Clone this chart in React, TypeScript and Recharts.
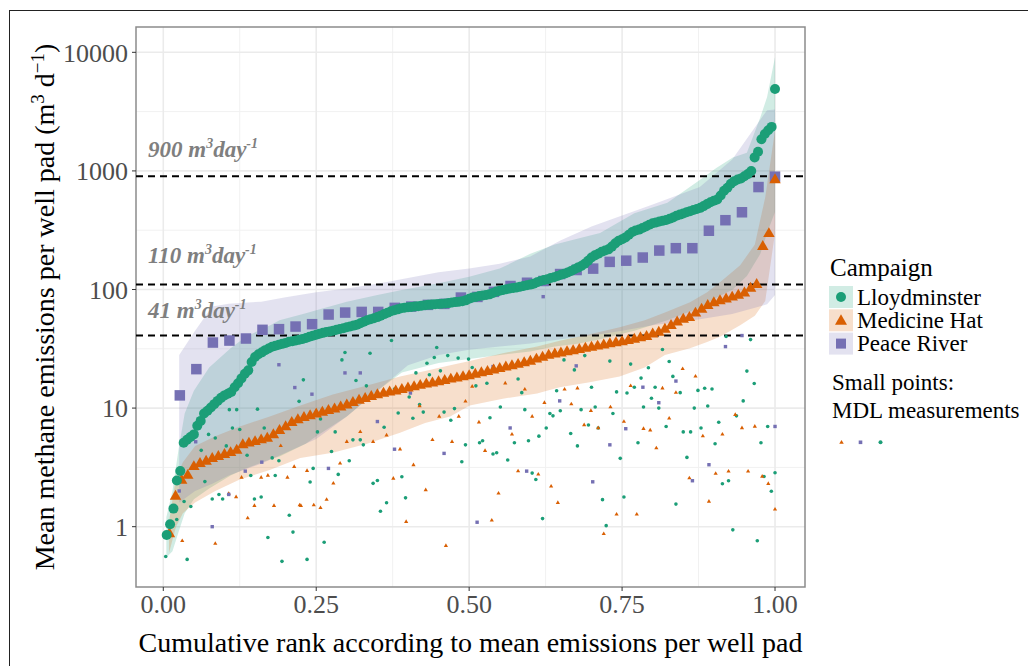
import React from 'react';
import {
  ComposedChart, XAxis, YAxis, CartesianGrid, Area, Scatter,
  ReferenceLine, ReferenceArea,
} from 'recharts';

const COL_L = '#1b9e77';
const COL_M = '#d95f02';
const COL_P = '#7570b3';
const FONT = '"Liberation Serif", "Times New Roman", serif';

const campaigns = ['Lloydminster', 'Medicine Hat', 'Peace River'];
const xTicks = [0, 0.25, 0.5, 0.75, 1];
const xMinor = [0.125, 0.375, 0.625, 0.875];
const yTicks = [1, 10, 100, 1000, 10000];
const yMinor = [3.162, 31.62, 316.2, 3162];
const thresholds = [900, 110, 41];

// Mean emissions per well pad, sorted (cumulative rank = i / n)
const lloydValues = [
  0.85, 1.05, 1.42, 2.45, 2.95, 5.1, 5.4, 5.7, 6.0, 7.1,
  7.8, 9.0, 9.5, 10.1, 10.8, 11.5, 12.2, 12.8, 13.2, 13.7,
  15.0, 16.2, 17.8, 19.5, 20.8, 24.5, 27.0, 28.4, 29.5, 30.8,
  31.8, 32.9, 33.6, 34.2, 34.8, 35.4, 36.2, 36.6, 37.1, 37.7,
  38.3, 39.0, 40.0, 40.8, 41.5, 42.3, 43.1, 43.8, 44.3, 45.0,
  45.8, 46.5, 47.2, 48.0, 48.8, 49.6, 50.5, 52.0, 53.5, 55.0,
  56.2, 57.3, 58.5, 60.2, 62.0, 63.8, 65.5, 66.8, 68.0, 69.5,
  70.2, 70.8, 71.3, 71.8, 72.4, 73.0, 73.6, 74.2, 74.6, 75.0,
  75.4, 75.8, 76.2, 76.8, 77.6, 78.3, 79.0, 79.6, 81.0, 83.5,
  85.5, 86.5, 88.0, 89.0, 90.0, 91.0, 93.5, 96.0, 97.5, 99.0,
  100.5, 102, 103, 104, 105.5, 107, 108.5, 110, 112, 115,
  118, 120, 122, 125, 127, 130, 133, 136, 139, 143,
  148, 153, 158, 165, 175, 186, 194, 200, 208, 213,
  218, 230, 245, 258, 265, 275, 290, 305, 315, 320,
  330, 340, 352, 362, 368, 374, 380, 386, 395, 405,
  418, 428, 438, 448, 458, 468, 478, 488, 505, 525,
  545, 560, 575, 620, 680, 720, 780, 820, 845, 865,
  900, 940, 1000, 1300, 1450, 1850, 2050, 2200, 2350, 4900,
];

const medValues = [
  0.87, 1.8, 2.45, 2.7, 3.2, 3.4, 3.55, 3.75, 3.9, 4.05,
  4.2, 4.4, 4.9, 5.05, 5.2, 5.38, 5.55, 5.95, 6.45, 6.95,
  7.55, 7.95, 8.3, 8.6, 8.9, 9.2, 9.5, 9.8, 10.2, 10.6,
  11.1, 11.6, 12.0, 12.5, 12.9, 13.3, 13.6, 13.9, 14.3, 14.7,
  15.1, 15.5, 15.9, 16.2, 16.6, 17.0, 17.5, 17.9, 18.3, 18.7,
  19.2, 19.8, 20.3, 20.9, 21.5, 22.1, 22.7, 23.3, 24.0, 24.8,
  25.8, 26.8, 27.8, 28.5, 29.1, 29.8, 30.4, 31.1, 31.8, 32.5,
  33.2, 34.0, 34.8, 35.5, 36.2, 37.0, 38.0, 39.0, 40.0, 42.0,
  43.5, 46, 49.5, 53, 56, 58, 63, 68, 73, 77,
  80, 83, 86, 89, 93, 102, 110, 230, 295, 840,
];

const peaceValues = [
  12.8, 21.3, 35.7, 37.1, 38.6, 45.7, 46.3, 48.7, 51, 61.5,
  63.9, 64.7, 64.7, 70, 71.8, 74.2, 75.6, 85.5, 86.6, 95.5,
  107, 114, 118, 135, 146, 150, 171, 175, 186, 213,
  223, 223, 313, 384, 448, 731, 894,
];

// Ribbons: [rank, lower, upper]
const lloydRibbon = [
  [0.005, 0.55, 1.2], [0.015, 0.62, 2.0], [0.025, 0.9, 4.5], [0.035, 1.3, 9],
  [0.05, 1.7, 14], [0.075, 2.1, 22], [0.11, 2.7, 32], [0.135, 3.1, 40],
  [0.175, 3.7, 50], [0.19, 3.9, 55], [0.233, 5.0, 63], [0.25, 5.8, 67],
  [0.3, 8.5, 79], [0.35, 14, 90], [0.39, 20, 99], [0.45, 24, 113],
  [0.5, 26, 128], [0.55, 28, 150], [0.6, 30, 200], [0.64, 33, 240],
  [0.68, 35, 270], [0.714, 38, 300], [0.77, 45, 440], [0.824, 55, 540],
  [0.877, 70, 840], [0.904, 85, 1060], [0.931, 100, 1300], [0.954, 130, 1420],
  [0.976, 200, 2830], [0.987, 300, 4200], [1.0, 450, 9150],
];

const medRibbon = [
  [0.0093, 0.6, 1.1], [0.0208, 1.0, 2.6], [0.032, 1.3, 3.5], [0.052, 1.6, 4.8],
  [0.085, 2.0, 5.8], [0.125, 2.5, 7.0], [0.174, 3.0, 8.5], [0.224, 3.8, 10.5],
  [0.277, 4.2, 13], [0.333, 5.0, 15.5], [0.387, 6.2, 18.5], [0.428, 7.5, 20.5],
  [0.469, 8.5, 23], [0.501, 10.5, 25], [0.555, 12.0, 29], [0.611, 13.3, 33],
  [0.648, 15.0, 37], [0.697, 16.5, 42], [0.746, 18.5, 48], [0.787, 22.0, 55],
  [0.82, 28.0, 64], [0.861, 32.0, 78], [0.889, 36.0, 95], [0.91, 40.0, 115],
  [0.943, 50, 160], [0.967, 60, 240], [0.984, 80, 600], [1.0, 300, 2200],
];

const peaceRibbon = [
  [0.026, 1.6, 28], [0.052, 2.0, 45], [0.08, 2.3, 72], [0.107, 2.7, 76],
  [0.16, 3.4, 79], [0.2, 4.2, 86], [0.25, 5.5, 95], [0.3, 8.5, 102],
  [0.35, 14, 112], [0.4, 23, 125], [0.45, 28, 140], [0.5, 31, 150],
  [0.55, 33, 165], [0.6, 35, 190], [0.65, 38, 260], [0.7, 41, 340],
  [0.75, 45, 420], [0.8, 50, 520], [0.877, 56, 730], [0.93, 62, 1250],
  [0.987, 75, 3250], [1.0, 90, 3300],
];

// MDL measurements: [rank, value]
const lloydMdl = [
  [0.154, 9.8], [0.108, 9.7], [0.12, 9.7], [0.113, 6.8], [0.125, 6.6], [0.074, 6.0], [0.085, 5.6],
  [0.103, 4.8], [0.062, 4.4], [0.137, 4.0], [0.165, 6.8], [0.189, 3.6], [0.178, 3.8], [0.143, 2.7],
  [0.183, 2.7], [0.068, 2.4], [0.034, 1.63], [0.045, 1.48], [0.08, 1.71], [0.091, 1.87], [0.097, 1.71],
  [0.149, 1.71], [0.16, 1.78], [0.206, 1.25], [0.212, 0.9], [0.171, 0.81], [0.194, 0.51], [0.004, 0.56],
  [0.039, 0.53], [0.022, 1.15], [0.222, 11.4], [0.229, 17.3],
  [0.373, 37.1], [0.297, 29.4], [0.292, 25.5], [0.338, 29.0], [0.315, 17.1], [0.332, 15.4], [0.447, 32.4],
  [0.465, 27.7], [0.443, 26.7], [0.431, 23.9], [0.482, 26.4], [0.499, 25.9], [0.413, 19.8], [0.435, 19.1],
  [0.453, 20.6], [0.378, 14.5], [0.402, 12.4], [0.419, 10.7], [0.425, 9.25], [0.384, 9.1], [0.408, 8.2],
  [0.361, 6.9], [0.459, 9.25], [0.47, 7.9], [0.476, 9.9], [0.252, 6.3], [0.257, 8.1], [0.281, 6.3],
  [0.31, 5.4], [0.322, 5.4], [0.327, 4.9], [0.275, 4.3], [0.304, 3.6], [0.245, 3.1], [0.286, 2.76],
  [0.24, 2.38], [0.343, 2.32], [0.35, 2.45], [0.39, 2.64], [0.365, 1.59], [0.355, 1.35], [0.396, 1.75],
  [0.263, 0.74], [0.235, 0.53], [0.494, 4.9], [0.488, 3.53],
  [0.505, 22.0], [0.511, 15.4], [0.529, 16.2], [0.568, 22.0], [0.58, 17.6], [0.586, 13.5], [0.551, 10.2],
  [0.591, 9.7], [0.534, 8.3], [0.517, 5.1], [0.522, 5.3], [0.539, 4.1], [0.545, 4.2], [0.563, 3.65],
  [0.574, 5.1], [0.597, 5.3], [0.614, 5.8], [0.626, 6.8], [0.632, 9.0], [0.637, 8.6], [0.649, 9.5],
  [0.643, 14.0], [0.655, 25.5], [0.66, 29.0], [0.672, 21.0], [0.689, 27.7], [0.683, 9.7], [0.706, 10.2],
  [0.7, 15.0], [0.695, 7.2], [0.711, 6.8], [0.666, 6.1], [0.677, 4.8], [0.73, 24.9], [0.741, 13.7],
  [0.758, 13.4], [0.764, 23.5], [0.77, 15.0], [0.781, 17.9], [0.785, 10.2], [0.776, 5.1], [0.735, 9.0],
  [0.747, 3.77], [0.603, 2.83], [0.609, 2.5], [0.62, 1.17], [0.718, 1.69], [0.724, 1.02], [0.753, 1.78],
  [0.92, 40.1], [0.96, 37.8], [0.816, 31.2], [0.827, 24.7], [0.793, 21.9], [0.833, 18.5], [0.804, 15.0],
  [0.845, 13.5], [0.874, 14.1], [0.885, 14.7], [0.897, 14.5], [0.798, 12.1], [0.81, 10.0], [0.868, 10.0],
  [0.89, 10.4], [0.948, 11.5], [0.954, 20.5], [0.966, 16.1], [0.822, 7.0], [0.85, 6.3], [0.862, 6.3],
  [0.879, 6.8], [0.908, 7.6], [0.937, 8.6], [0.988, 7.0], [0.902, 5.0], [0.977, 5.1], [0.856, 3.84],
  [0.982, 2.65], [1.0, 2.85], [0.994, 1.99], [0.924, 2.44], [0.914, 2.3], [0.838, 1.55], [0.931, 0.94],
  [0.971, 0.76],
];

const peaceMdl = [
  [0.189, 23.2], [0.215, 14.9], [0.053, 5.2], [0.026, 2.0], [0.107, 1.87], [0.134, 2.94], [0.161, 3.5],
  [0.08, 1.0], [0.297, 19.8], [0.322, 19.8], [0.243, 13.1], [0.404, 13.4], [0.35, 7.7], [0.378, 4.5],
  [0.459, 4.15], [0.27, 3.1], [0.539, 22.4], [0.675, 22.7], [0.648, 11.5], [0.567, 6.8], [0.756, 6.7],
  [0.73, 4.9], [0.594, 2.94], [0.702, 2.39], [0.513, 1.09], [0.784, 15.0], [0.946, 40.9], [0.919, 33.0],
  [0.838, 16.9], [0.81, 11.1], [1.0, 7.0], [0.892, 3.33], [0.865, 2.44], [0.621, 87],
];

const medMdl = [
  [0.192, 4.8], [0.214, 3.2], [0.203, 2.6], [0.171, 2.7], [0.16, 2.6], [0.128, 2.6], [0.119, 1.78],
  [0.107, 1.9], [0.149, 1.5], [0.181, 1.5], [0.225, 1.5], [0.138, 1.18], [0.031, 0.76], [0.085, 0.72],
  [0.419, 10.4], [0.322, 6.3], [0.3, 5.2], [0.343, 5.2], [0.365, 5.9], [0.387, 4.5], [0.44, 5.4],
  [0.472, 5.2], [0.451, 8.5], [0.483, 8.5], [0.494, 11.4], [0.505, 15.2], [0.235, 2.96], [0.289, 3.42],
  [0.278, 2.32], [0.409, 3.31], [0.376, 2.55], [0.429, 2.04], [0.223, 1.52], [0.246, 1.52], [0.257, 1.44],
  [0.267, 1.69], [0.397, 1.1], [0.462, 0.69],
  [0.559, 16.2], [0.591, 14.4], [0.623, 11.1], [0.656, 14.4], [0.667, 10.8], [0.677, 14.7], [0.699, 9.5],
  [0.731, 10.2], [0.764, 15.4], [0.753, 7.7], [0.785, 6.7], [0.516, 7.6], [0.603, 8.5], [0.57, 6.0],
  [0.526, 4.37], [0.688, 7.2], [0.711, 6.8], [0.58, 2.94], [0.613, 2.76], [0.634, 2.19], [0.548, 1.91],
  [0.645, 1.59], [0.537, 1.13], [0.741, 1.27], [0.774, 1.27], [0.72, 0.87],
  [0.849, 21.4], [0.87, 18.5], [0.816, 14.7], [0.838, 13.5], [0.827, 8.2], [0.796, 6.5], [0.806, 4.6],
  [0.882, 5.8], [0.914, 6.0], [0.935, 8.8], [0.946, 6.8], [0.967, 7.0], [0.86, 2.57], [0.903, 2.8],
  [0.924, 2.93], [0.956, 2.93], [0.979, 2.65], [0.989, 2.3], [1.0, 1.4], [0.892, 1.63],
];

const toPts = (vals: number[]) => vals.map((y, i) => ({ x: (i + 1) / vals.length, y }));
const toRib = (rows: number[][]) => rows.map(([x, lo, hi]) => ({ x, lo, hi }));
const toXY = (rows: number[][]) => rows.map(([x, y]) => ({ x, y }));

const lloydPts = toPts(lloydValues);
const medPts = toPts(medValues);
const peacePts = toPts(peaceValues);

const X_DOMAIN: [number, number] = [-0.0446, 1.049];
const Y_DOMAIN: [number, number] = [0.31, 16350];

const circleShape = (r: number, fill: string) => (p: any) =>
  <circle cx={p.cx} cy={p.cy} r={r} fill={fill} />;
const squareShape = (s: number, fill: string) => (p: any) =>
  <rect x={p.cx - s / 2} y={p.cy - s / 2} width={s} height={s} fill={fill} />;
const triShape = (w: number, fill: string) => (p: any) => {
  const h = w * 0.866;
  return (
    <polygon
      points={`${p.cx},${p.cy - (2 * h) / 3} ${p.cx - w / 2},${p.cy + h / 3} ${p.cx + w / 2},${p.cy + h / 3}`}
      fill={fill}
    />
  );
};

const labelLift: Record<number, number> = { 900: 19, 110: 22, 41: 17 };

const ThresholdLabel = (value: number) => (props: any) => {
  const vb = props.viewBox || {};
  return (
    <text
      x={vb.x + 12}
      y={vb.y - labelLift[value]}
      fontFamily={FONT}
      fontStyle="italic"
      fontWeight="bold"
      fontSize={23}
      fill="#7f7f7f"
    >
      <tspan>{`${value} m`}</tspan>
      <tspan dy={-9} fontSize={14}>3</tspan>
      <tspan dy={9}>day</tspan>
      <tspan dy={-9} fontSize={14}>-1</tspan>
    </text>
  );
};

const YTitle = (props: any) => {
  const vb = props.viewBox || {};
  const cx = vb.x + 18;
  const cy = vb.y + vb.height / 2;
  return (
    <text
      x={cx}
      y={cy}
      transform={`rotate(-90, ${cx}, ${cy})`}
      textAnchor="middle"
      fontFamily={FONT}
      fontSize={28}
      fill="#000"
    >
      <tspan>Mean methane emissions per well pad (m</tspan>
      <tspan dy={-10} fontSize={19}>3</tspan>
      <tspan dy={10}> d</tspan>
      <tspan dy={-10} fontSize={19}>−1</tspan>
      <tspan dy={10}>)</tspan>
    </text>
  );
};

const XTitle = (props: any) => {
  const vb = props.viewBox || {};
  return (
    <text
      x={vb.x + vb.width / 2}
      y={vb.y + 65}
      textAnchor="middle"
      fontFamily={FONT}
      fontSize={28}
      fill="#000"
    >
      Cumulative rank according to mean emissions per well pad
    </text>
  );
};

const tickStyle = { fontFamily: FONT, fontSize: 26, fill: '#4d4d4d' };

const Legend = () => {
  const colors = [COL_L, COL_M, COL_P];
  return (
    <svg
      width={1028}
      height={666}
      style={{ position: 'absolute', left: 0, top: 0, pointerEvents: 'none' }}
    >
      <text x={830} y={276} fontFamily={FONT} fontSize={25} fill="#000">Campaign</text>
      {campaigns.map((c, i) => {
        const cy = 297 + i * 23.3;
        const col = colors[i];
        return (
          <g key={c}>
            <rect x={829} y={cy - 11} width={24} height={22} fill={col} fillOpacity={0.2} />
            {i === 0 && circleShape(5, col)({ cx: 841, cy })}
            {i === 1 && triShape(12, col)({ cx: 841, cy: cy + 1 })}
            {i === 2 && squareShape(10, col)({ cx: 841, cy })}
            <text x={857} y={cy + 7.5} fontFamily={FONT} fontSize={23} fill="#000">{c}</text>
          </g>
        );
      })}
      <text x={832} y={390} fontFamily={FONT} fontSize={23} fill="#000">Small points:</text>
      <text x={832} y={418} fontFamily={FONT} fontSize={23} fill="#000">MDL measurements</text>
      {triShape(4.5, COL_M)({ cx: 841.5, cy: 442.5 })}
      {squareShape(3.6, COL_P)({ cx: 860.5, cy: 442.3 })}
      {circleShape(2, COL_L)({ cx: 880.5, cy: 442.3 })}
    </svg>
  );
};

export default function App() {
  return (
    <div style={{ position: 'absolute', left: 0, top: 0, width: 1028, height: 666, background: '#fff' }}>
      <div
        style={{
          position: 'absolute', left: 9, top: 10, width: 1040, height: 680,
          borderLeft: '1.5px solid #222', borderTop: '1.5px solid #222',
        }}
      />
      <div style={{ position: 'absolute', left: 0, top: 0 }}>
        <ComposedChart width={1028} height={666} margin={{ top: 27, right: 223, bottom: 0, left: 36 }}>
          <CartesianGrid
            horizontalValues={yMinor}
            verticalValues={xMinor}
            stroke="#f1f1f1"
            strokeWidth={1}
          />
          <CartesianGrid
            horizontalValues={yTicks}
            verticalValues={xTicks}
            stroke="#ebebeb"
            strokeWidth={1.6}
          />
          <XAxis
            type="number"
            dataKey="x"
            domain={X_DOMAIN}
            allowDataOverflow
            ticks={xTicks}
            tickFormatter={(v: number) => v.toFixed(2)}
            tick={tickStyle}
            tickSize={4}
            tickMargin={4}
            tickLine={{ stroke: '#333' }}
            axisLine={false}
            height={79}
            label={{ content: XTitle }}
          />
          <YAxis
            type="number"
            scale="log"
            domain={Y_DOMAIN}
            allowDataOverflow
            ticks={yTicks}
            tickFormatter={(v: number) => String(v)}
            tick={tickStyle}
            tickSize={4}
            tickMargin={4}
            tickLine={{ stroke: '#333' }}
            axisLine={false}
            width={100}
            label={{ content: YTitle }}
          />
          <Area
            data={toRib(lloydRibbon)}
            dataKey={(d: any) => [d.lo, d.hi]}
            type="linear"
            stroke="none"
            fill={COL_L}
            fillOpacity={0.2}
            isAnimationActive={false}
          />
          <Area
            data={toRib(medRibbon)}
            dataKey={(d: any) => [d.lo, d.hi]}
            type="linear"
            stroke="none"
            fill={COL_M}
            fillOpacity={0.2}
            isAnimationActive={false}
          />
          <Area
            data={toRib(peaceRibbon)}
            dataKey={(d: any) => [d.lo, d.hi]}
            type="linear"
            stroke="none"
            fill={COL_P}
            fillOpacity={0.2}
            isAnimationActive={false}
          />
          <Scatter data={toXY(lloydMdl)} dataKey="y" shape={circleShape(1.8, COL_L)} isAnimationActive={false} />
          <Scatter data={toXY(medMdl)} dataKey="y" shape={triShape(4.2, COL_M)} isAnimationActive={false} />
          <Scatter data={toXY(peaceMdl)} dataKey="y" shape={squareShape(3.4, COL_P)} isAnimationActive={false} />
          <Scatter data={peacePts} dataKey="y" shape={squareShape(10.5, COL_P)} isAnimationActive={false} />
          <Scatter data={medPts} dataKey="y" shape={triShape(11.5, COL_M)} isAnimationActive={false} />
          <Scatter data={lloydPts} dataKey="y" shape={circleShape(5, COL_L)} isAnimationActive={false} />
          {thresholds.map((t) => (
            <ReferenceLine
              key={t}
              y={t}
              stroke="#000"
              strokeWidth={2}
              strokeDasharray="7 5"
              label={ThresholdLabel(t)}
            />
          ))}
          <ReferenceArea
            x1={X_DOMAIN[0]}
            x2={X_DOMAIN[1]}
            y1={Y_DOMAIN[0]}
            y2={Y_DOMAIN[1]}
            fill="none"
            fillOpacity={0}
            stroke="#8c8c8c"
            strokeWidth={1.5}
          />
        </ComposedChart>
      </div>
      <Legend />
    </div>
  );
}
